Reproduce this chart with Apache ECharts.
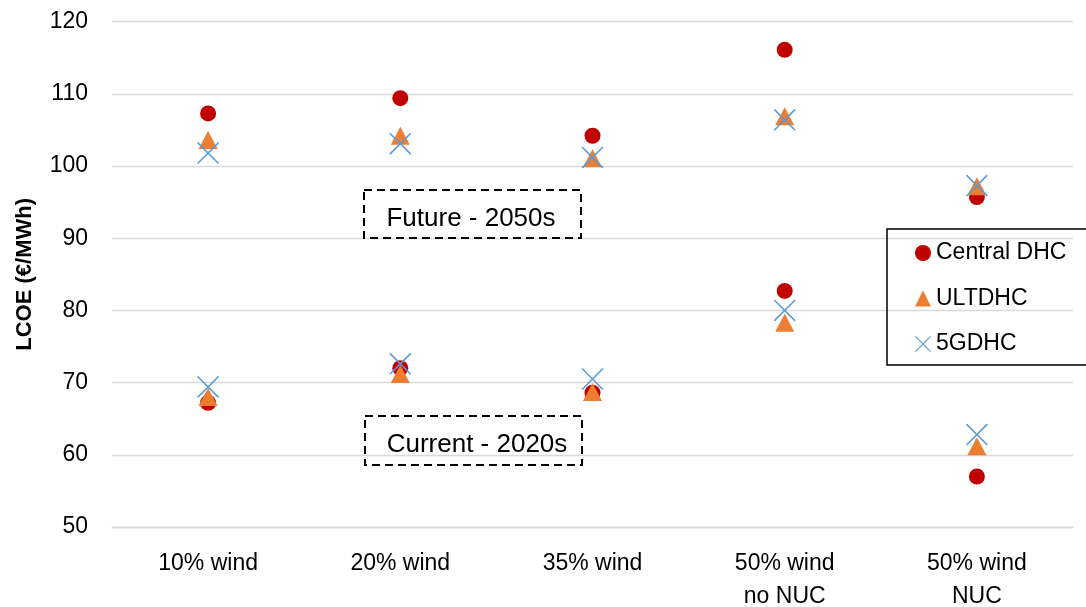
<!DOCTYPE html>
<html>
<head>
<meta charset="utf-8">
<script src="https://cdn.jsdelivr.net/npm/echarts@6/dist/echarts.min.js"></script>
<style>html,body{margin:0;padding:0;background:#fff}#c{width:1086px;height:607px}</style>
</head>
<body>
<div id="c"></div>
<script>
const categories = ['10% wind', '20% wind', '35% wind', '50% wind\nno NUC', '50% wind\nNUC'];
const centralFuture = [107.3, 109.4, 104.2, 116.1, 95.7];
const centralCurrent = [67.2, 72.0, 68.6, 82.7, 57.0];
const ultFuture = [103.6, 104.2, 101.1, 106.9, 97.2];
const ultCurrent = [68.0, 71.2, 68.7, 78.3, 61.2];
const gFuture = [101.8, 103.1, 101.2, 106.4, 97.3];
const gCurrent = [69.4, 72.6, 70.5, 80.0, 62.8];
const yTicks = { min: 50, max: 120, interval: 10 };
const seriesNames = ['Central DHC', 'ULTDHC', '5GDHC'];

function pairs(fut, cur) {
  const out = [];
  for (let i = 0; i < categories.length; i++) {
    out.push([i, fut[i]]);
    out.push([i, cur[i]]);
  }
  return out;
}

const FONT = 'Liberation Sans';
const crossPath = 'path://M0,1L1,0L20,19L19,20Z M19,0L20,1L1,20L0,19Z';

const chart = echarts.init(document.getElementById('c'), null, { renderer: 'canvas' });
chart.setOption({
  animation: false,
  backgroundColor: '#fff',
  grid: { left: 112, right: 13, top: 21.7, bottom: 80, containLabel: false, outerBoundsMode: 'none' },
  xAxis: {
    type: 'category',
    data: categories,
    boundaryGap: true,
    axisLine: { show: true, lineStyle: { color: '#D9D9D9', width: 1.3 } },
    axisTick: { show: false },
    splitLine: { show: false },
    axisLabel: { color: '#000', fontFamily: FONT, fontSize: 23, lineHeight: 33, margin: 20, interval: 0 }
  },
  yAxis: {
    type: 'value',
    min: yTicks.min, max: yTicks.max, interval: yTicks.interval,
    name: 'LCOE (€/MWh)',
    nameLocation: 'middle',
    nameRotate: 90,
    nameGap: 76,
    nameTextStyle: { color: '#000', fontFamily: FONT, fontSize: 22, fontWeight: 'bold' },
    axisLine: { show: false },
    axisTick: { show: false },
    splitLine: { show: true, lineStyle: { color: '#D9D9D9', width: 1.3 } },
    axisLabel: { color: '#000', fontFamily: FONT, fontSize: 23, margin: 24 }
  },
  legend: {
    orient: 'vertical',
    left: 887, top: 229,
    padding: [12, 40, 9, 28],
    itemGap: 21.5,
    itemWidth: 16, itemHeight: 16,
    borderColor: '#000', borderWidth: 1.5,
    textStyle: { color: '#000', fontFamily: FONT, fontSize: 23, lineHeight: 24 },
    data: seriesNames
  },
  graphic: [
    { type: 'rect', shape: { x: 364, y: 190, width: 217, height: 48 },
      style: { fill: 'none', stroke: '#000', lineWidth: 2, lineDash: [8, 5] }, z: 10 },
    { type: 'text', style: { text: 'Future - 2050s', x: 471, y: 219, textAlign: 'center', textVerticalAlign: 'middle',
      font: '26px "' + FONT + '"', fill: '#000' }, z: 10 },
    { type: 'rect', shape: { x: 365, y: 416, width: 217, height: 49 },
      style: { fill: 'none', stroke: '#000', lineWidth: 2, lineDash: [8, 5] }, z: 10 },
    { type: 'text', style: { text: 'Current - 2020s', x: 477, y: 445, textAlign: 'center', textVerticalAlign: 'middle',
      font: '26px "' + FONT + '"', fill: '#000' }, z: 10 }
  ],
  series: [
    { name: seriesNames[0], type: 'scatter', symbol: 'circle', symbolSize: 16,
      itemStyle: { color: '#C00000', opacity: 1 }, data: pairs(centralFuture, centralCurrent) },
    { name: seriesNames[1], type: 'scatter', symbol: 'triangle', symbolSize: [19, 18],
      itemStyle: { color: '#ED7D31', opacity: 1 }, data: pairs(ultFuture, ultCurrent) },
    { name: seriesNames[2], type: 'scatter', symbol: crossPath, symbolSize: 22,
      itemStyle: { color: '#5B9BD5', opacity: 1 }, data: pairs(gFuture, gCurrent) }
  ]
});
</script>
</body>
</html>
